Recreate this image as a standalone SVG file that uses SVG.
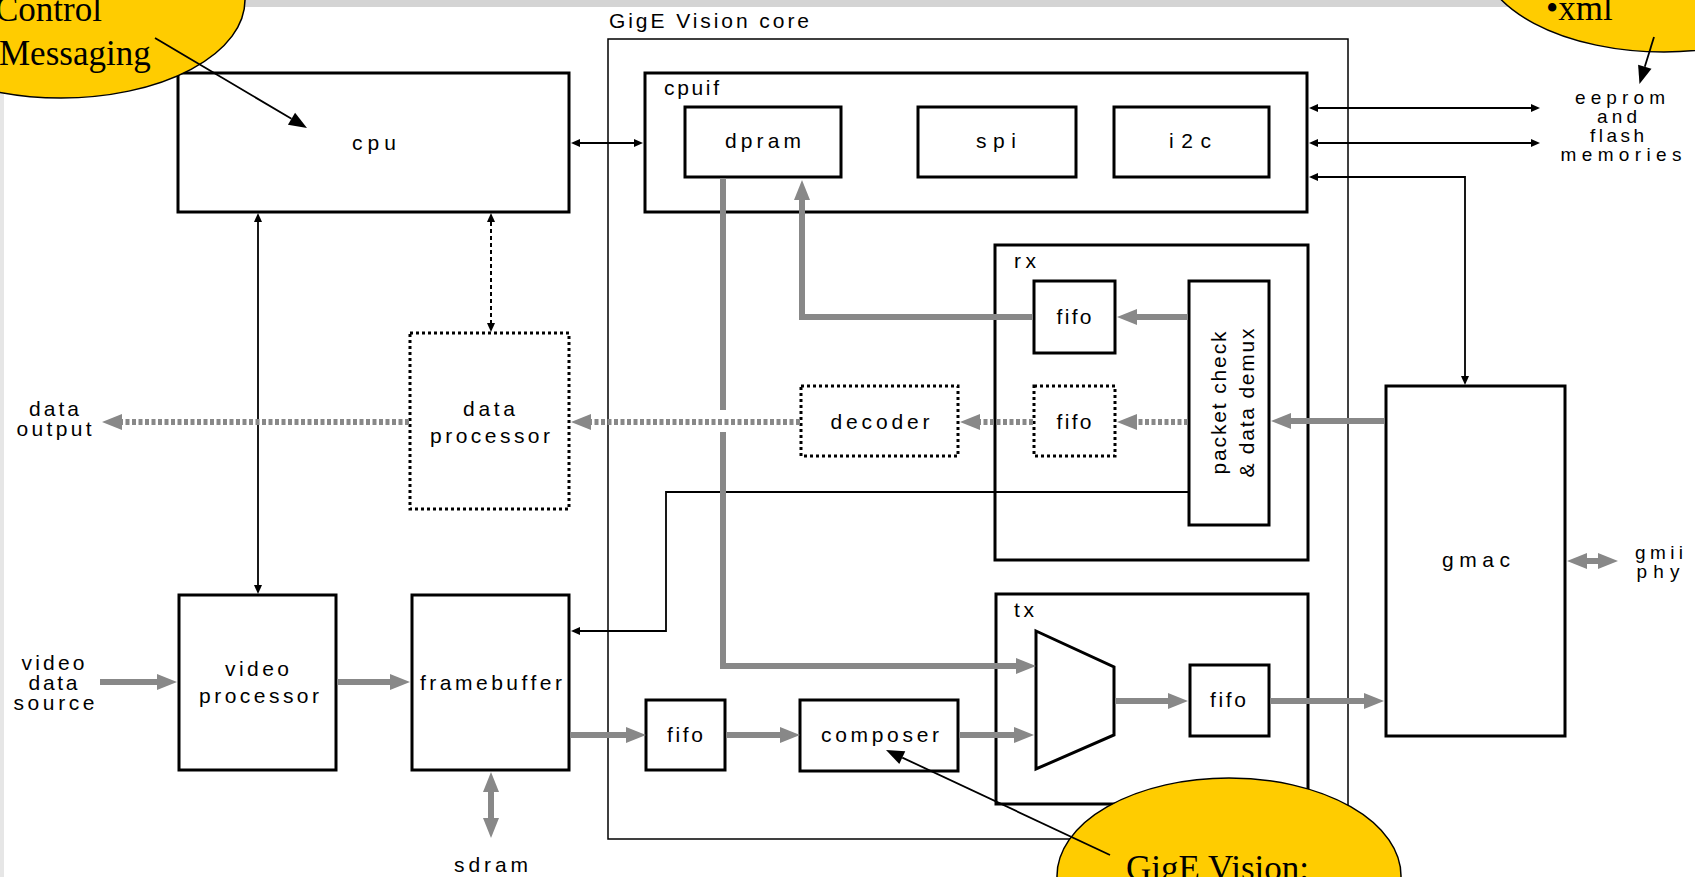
<svg xmlns="http://www.w3.org/2000/svg" width="1695" height="877" viewBox="0 0 1695 877">
<defs>
<style>
.box{fill:#fff;stroke:#000;stroke-width:3}
.dbox{fill:#fff;stroke:#000;stroke-width:3;stroke-dasharray:3 3}
.core{fill:none;stroke:#000;stroke-width:1.5}
.lbl{font-family:"Liberation Sans",Arial,sans-serif;font-size:21px;fill:#000}
.sm{font-size:19px}
.mid{text-anchor:middle}
.g{fill:none;stroke:#888;stroke-width:6}
.gd{fill:none;stroke:#888;stroke-width:6;stroke-dasharray:4 2.5}
.k{fill:none;stroke:#000;stroke-width:1.8}
.kd{fill:none;stroke:#000;stroke-width:2;stroke-dasharray:4 3}
.callout{fill:#ffcc00;stroke:#000;stroke-width:1.5}
.ct{font-family:"Liberation Serif","Times New Roman",serif;font-size:35px;fill:#000}
.ca{fill:none;stroke:#000;stroke-width:1.8}
</style>
<marker id="ga" markerUnits="userSpaceOnUse" markerWidth="24" markerHeight="20" viewBox="0 -10 24 20" refX="0" refY="0" orient="auto-start-reverse" overflow="visible"><path d="M0,-8 L20,0 L0,8 Z" fill="#888"/></marker>
<marker id="ka" markerUnits="userSpaceOnUse" markerWidth="12" markerHeight="10" viewBox="0 -5 12 10" refX="0" refY="0" orient="auto-start-reverse" overflow="visible"><path d="M0,-4 L9,0 L0,4 Z" fill="#000"/></marker>
<marker id="cm" markerUnits="userSpaceOnUse" markerWidth="20" markerHeight="16" viewBox="0 -8 20 16" refX="0" refY="0" orient="auto" overflow="visible"><path d="M0,-7 L18,0 L0,7 Z" fill="#000"/></marker>
</defs>
<rect x="0" y="0" width="1695" height="877" fill="#fff"/>
<rect x="0" y="0" width="1695" height="7" fill="#d4d4d4"/>
<rect x="0" y="0" width="4" height="877" fill="#e6e6e6"/>

<g id="gige-core">
<rect class="core" x="608" y="39" width="740" height="800"/>
<text class="lbl" x="609" y="28" textLength="200" lengthAdjust="spacing">GigE Vision core</text>
</g>
<g id="cpu">
<rect class="box" x="178" y="73" width="391" height="139"/>
<text class="lbl mid" x="374" y="150" textLength="44" lengthAdjust="spacing">cpu</text>
</g>
<g id="cpuif">
<rect class="box" x="645" y="73" width="662" height="139"/>
<text class="lbl" x="664" y="95" textLength="55" lengthAdjust="spacing">cpuif</text>
</g>
<g id="dpram">
<rect class="box" x="685" y="107" width="156" height="70"/>
<text class="lbl mid" x="763" y="148" textLength="76" lengthAdjust="spacing">dpram</text>
</g>
<g id="spi">
<rect class="box" x="918" y="107" width="158" height="70"/>
<text class="lbl mid" x="996" y="148" textLength="40" lengthAdjust="spacing">spi</text>
</g>
<g id="i2c">
<rect class="box" x="1114" y="107" width="155" height="70"/>
<text class="lbl mid" x="1190" y="148" textLength="42" lengthAdjust="spacing">i2c</text>
</g>
<g id="eeprom">
<text class="lbl sm mid" x="1620" y="104" textLength="90" lengthAdjust="spacing">eeprom</text>
<text class="lbl sm mid" x="1617" y="123" textLength="40" lengthAdjust="spacing">and</text>
<text class="lbl sm mid" x="1617" y="142" textLength="54" lengthAdjust="spacing">flash</text>
<text class="lbl sm mid" x="1621" y="161" textLength="121" lengthAdjust="spacing">memories</text>
</g>
<g id="rx">
<rect class="box" x="995" y="245" width="313" height="315"/>
<text class="lbl" x="1014" y="268" textLength="22" lengthAdjust="spacing">rx</text>
</g>
<g id="rx-fifo">
<rect class="box" x="1034" y="281" width="81" height="72"/>
<text class="lbl mid" x="1074" y="324" textLength="35" lengthAdjust="spacing">fifo</text>
</g>
<g id="packet-check">
<rect class="box" x="1189" y="281" width="80" height="244"/>
<text class="lbl mid" transform="translate(1226,403) rotate(-90)" x="0" y="0" textLength="143" lengthAdjust="spacing">packet check</text>
<text class="lbl mid" transform="translate(1254,403) rotate(-90)" x="0" y="0" textLength="149" lengthAdjust="spacing">&amp; data demux</text>
</g>
<g id="rx-fifo2">
<rect class="dbox" x="1034" y="386" width="81" height="70"/>
<text class="lbl mid" x="1074" y="429" textLength="35" lengthAdjust="spacing">fifo</text>
</g>
<g id="decoder">
<rect class="dbox" x="801" y="386" width="157" height="70"/>
<text class="lbl mid" x="880" y="429" textLength="99" lengthAdjust="spacing">decoder</text>
</g>
<g id="data-processor">
<rect class="dbox" x="410" y="333" width="159" height="176"/>
<text class="lbl mid" x="489" y="416" textLength="52" lengthAdjust="spacing">data</text>
<text class="lbl mid" x="490" y="443" textLength="120" lengthAdjust="spacing">processor</text>
</g>
<g id="data-output">
<text class="lbl mid" x="54" y="416" textLength="50" lengthAdjust="spacing">data</text>
<text class="lbl mid" x="54" y="436" textLength="75" lengthAdjust="spacing">output</text>
</g>
<g id="gmac">
<rect class="box" x="1386" y="386" width="179" height="350"/>
<text class="lbl mid" x="1476" y="567" textLength="68" lengthAdjust="spacing">gmac</text>
</g>
<g id="gmii">
<text class="lbl sm mid" x="1659" y="559" textLength="48" lengthAdjust="spacing">gmii</text>
<text class="lbl sm mid" x="1658" y="578" textLength="43" lengthAdjust="spacing">phy</text>
</g>
<g id="tx">
<rect class="box" x="996" y="594" width="312" height="210"/>
<text class="lbl" x="1014" y="617" textLength="20" lengthAdjust="spacing">tx</text>
</g>
<g id="mux">
<polygon class="box" points="1036,631 1114,667 1114,735 1036,769"/>
</g>
<g id="tx-fifo">
<rect class="box" x="1190" y="665" width="79" height="71"/>
<text class="lbl mid" x="1228" y="707" textLength="36" lengthAdjust="spacing">fifo</text>
</g>
<g id="fifo">
<rect class="box" x="646" y="700" width="79" height="70"/>
<text class="lbl mid" x="685" y="742" textLength="36" lengthAdjust="spacing">fifo</text>
</g>
<g id="composer">
<rect class="box" x="800" y="700" width="158" height="71"/>
<text class="lbl mid" x="880" y="742" textLength="118" lengthAdjust="spacing">composer</text>
</g>
<g id="video-processor">
<rect class="box" x="179" y="595" width="157" height="175"/>
<text class="lbl mid" x="257" y="676" textLength="64" lengthAdjust="spacing">video</text>
<text class="lbl mid" x="259" y="703" textLength="120" lengthAdjust="spacing">processor</text>
</g>
<g id="framebuffer">
<rect class="box" x="412" y="595" width="157" height="175"/>
<text class="lbl mid" x="491" y="690" textLength="142" lengthAdjust="spacing">framebuffer</text>
</g>
<g id="video-source">
<text class="lbl mid" x="53" y="670" textLength="63" lengthAdjust="spacing">video</text>
<text class="lbl mid" x="53" y="690" textLength="49" lengthAdjust="spacing">data</text>
<text class="lbl mid" x="54" y="710" textLength="81" lengthAdjust="spacing">source</text>
</g>
<g id="sdram">
<text class="lbl mid" x="491" y="872" textLength="74" lengthAdjust="spacing">sdram</text>
</g>

<g id="connectors">
<path class="k" d="M580,143 L634,143" marker-start="url(#ka)" marker-end="url(#ka)"/>
<path class="k" d="M1318,108 L1531,108" marker-start="url(#ka)" marker-end="url(#ka)"/>
<path class="k" d="M1318,143 L1531,143" marker-start="url(#ka)" marker-end="url(#ka)"/>
<path class="k" d="M1465,376 L1465,177 L1318,177" marker-start="url(#ka)" marker-end="url(#ka)"/>
<path class="k" d="M258,222 L258,585" marker-start="url(#ka)" marker-end="url(#ka)"/>
<path class="kd" d="M491,222 L491,323" marker-start="url(#ka)" marker-end="url(#ka)"/>
<path class="k" d="M1189,492 L666,492 L666,631 L580,631" marker-end="url(#ka)"/>
<path class="gd" d="M409,422 L122,422" marker-end="url(#ga)"/>
<path class="gd" d="M800,422 L591,422" marker-end="url(#ga)"/>
<path class="gd" d="M1033,422 L980,422" marker-end="url(#ga)"/>
<path class="gd" d="M1188,422 L1137,422" marker-end="url(#ga)"/>
<path class="g" d="M1384,421 L1291,421" marker-end="url(#ga)"/>
<path class="g" d="M1188,317 L1137,317" marker-end="url(#ga)"/>
<path class="g" d="M1033,317 L802,317 L802,200" marker-end="url(#ga)"/>
<path class="g" d="M723,178 L723,410"/>
<path class="g" d="M723,432 L723,666 L1016,666" marker-end="url(#ga)"/>
<path class="g" d="M959,735 L1014,735" marker-end="url(#ga)"/>
<path class="g" d="M726,735 L780,735" marker-end="url(#ga)"/>
<path class="g" d="M570,735 L626,735" marker-end="url(#ga)"/>
<path class="g" d="M1115,701 L1168,701" marker-end="url(#ga)"/>
<path class="g" d="M1270,701 L1364,701" marker-end="url(#ga)"/>
<path class="g" d="M100,682 L157,682" marker-end="url(#ga)"/>
<path class="g" d="M337,682 L390,682" marker-end="url(#ga)"/>
<path class="g" d="M491,792 L491,818" marker-start="url(#ga)" marker-end="url(#ga)"/>
<path class="g" d="M1587,561 L1598,561" marker-start="url(#ga)" marker-end="url(#ga)"/>
</g>

<g id="callout-control">
<ellipse class="callout" cx="61" cy="0" rx="184" ry="98"/>
<text class="ct" x="-5" y="21">Control</text>
<text class="ct" x="-1" y="65">Messaging</text>
<path class="ca" d="M155,38 L291.5,118.8" marker-end="url(#cm)"/>
</g>
<g id="callout-xml">
<ellipse class="callout" cx="1664" cy="-46" rx="184" ry="98"/>
<text class="ct" x="1546" y="20">•xml</text>
<path class="ca" d="M1654,37 L1644.8,66.7" marker-end="url(#cm)"/>
</g>
<g id="callout-gige">
<ellipse class="callout" cx="1229" cy="876" rx="172" ry="98"/>
<text class="ct" x="1126" y="880">GigE Vision:</text>
<path class="ca" d="M1110,855 L902.3,757.6" marker-end="url(#cm)"/>
</g>
</svg>
